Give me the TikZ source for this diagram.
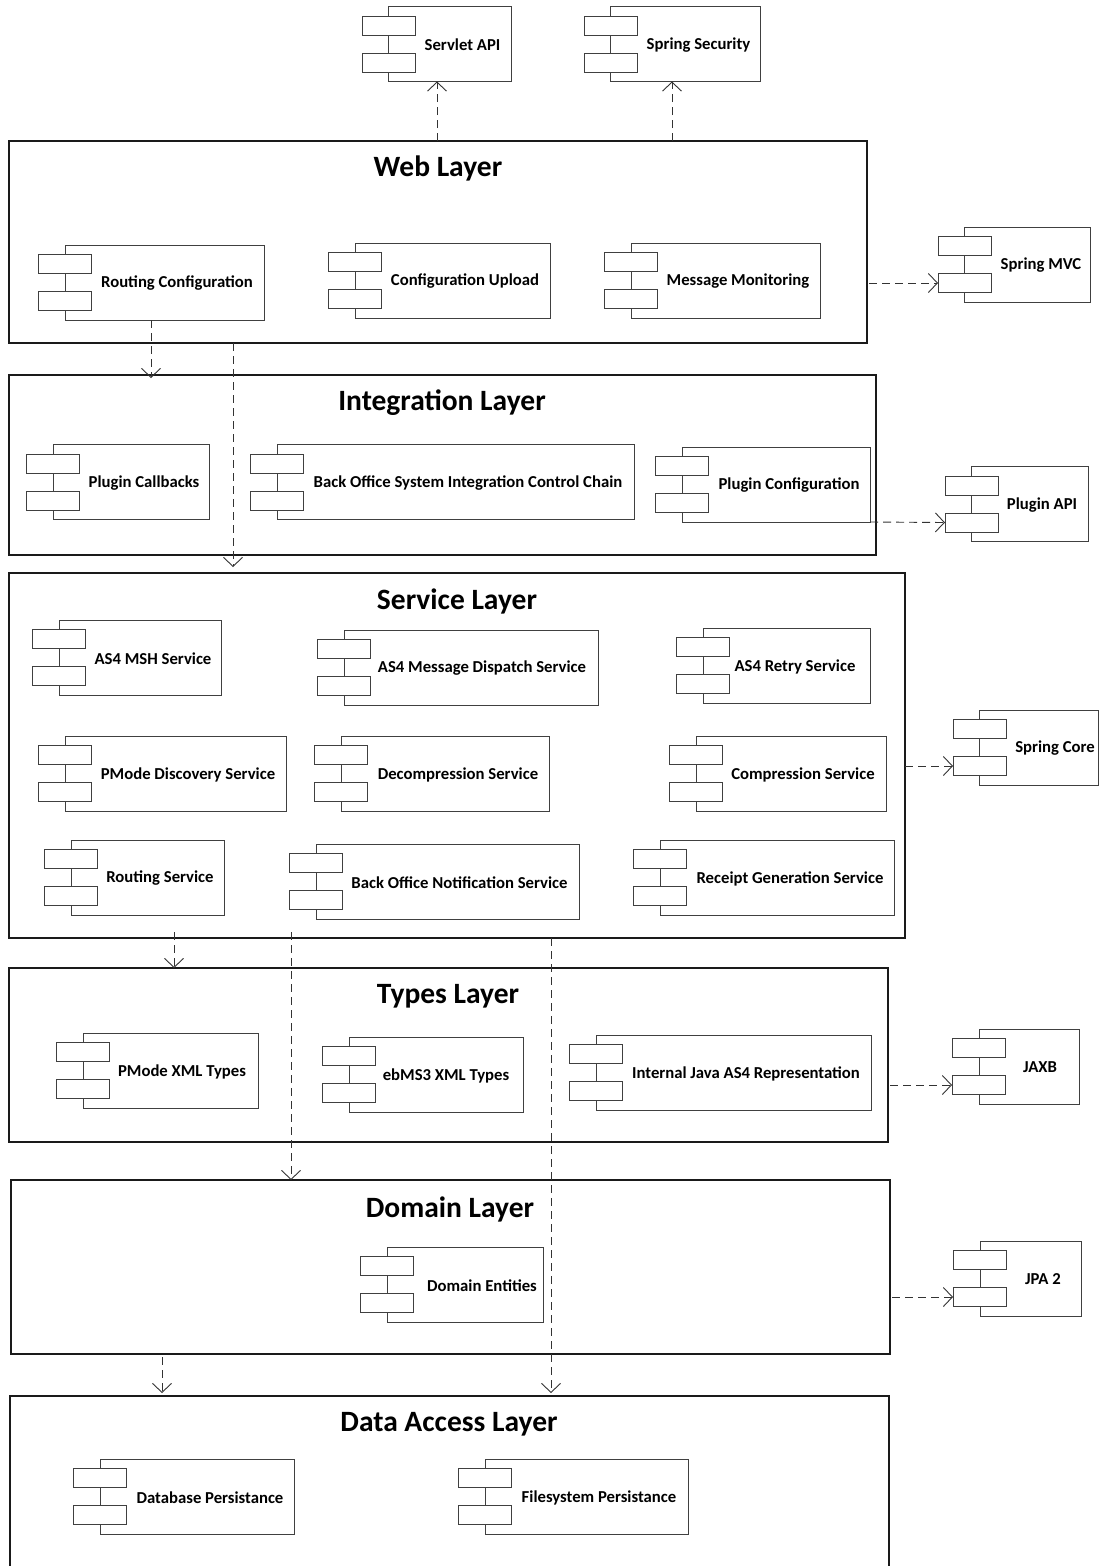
\documentclass[tikz,border=0pt]{standalone}
\usepackage{fontspec}
\setmainfont{Carlito}
\usetikzlibrary{arrows.meta}
\definecolor{inkc}{HTML}{1A1A1A}
\definecolor{compc}{HTML}{404040}
\definecolor{depc}{HTML}{333333}
\tikzset{
  layerbox/.style={draw=inkc,line width=1.6pt,rectangle,inner sep=0pt,outer sep=0pt,anchor=north west},
  compbody/.style={draw=compc,line width=1pt,rectangle,inner sep=0pt,outer sep=0pt,anchor=north west},
  compport/.style={draw=compc,fill=white,line width=1pt,rectangle,inner sep=0pt,outer sep=0pt,anchor=north west,minimum width=53pt,minimum height=19pt},
  complabel/.style={font=\bfseries\fontsize{16.7}{20}\selectfont,inner sep=0pt,text=black},
  layertitle/.style={font=\bfseries\fontsize{29.5}{34}\selectfont,inner sep=0pt,text=black},
  dep/.style={draw=depc,line width=0.9pt,dash pattern=on 8pt off 5pt,-{Straight Barb[length=9pt,width=19pt,line width=0.9pt]}}
}
% id, port-left, body-left, body-right, top, label-x, label
\newcommand{\comp}[7]{%
  \pgfmathsetmacro{\cw}{#4-#3}
  \node[compbody,minimum width=\cw pt,minimum height=75pt] (#1) at (#3,#5) {};
  \node[compport] (#1p) at (#2,#5+9.5) {};
  \node[compport] (#1q) at (#2,#5+46.5) {};
  \node[complabel] (#1t) at (#6,#5+38.5) {#7};
}
% id, left, right, top, bottom, title-x, title-y, title
\newcommand{\layer}[8]{%
  \pgfmathsetmacro{\lw}{#3-#2}
  \pgfmathsetmacro{\lh}{#5-#4}
  \node[layerbox,minimum width=\lw pt,minimum height=\lh pt] (#1) at (#2,#4) {};
  \node[layertitle] (#1t) at (#6,#7) {#8};
}
\begin{document}
\begin{tikzpicture}[x=1pt,y=-1pt]
\useasboundingbox[fill=white] (0,0) rectangle (1099,1566);
% x references for connectors
\foreach \v in {151,174,162,233,291,437,551,672}{\coordinate (x\v) at (\v,0);}
% externals
\comp{servlet}{362}{388}{511}{6.5}{462.5}{Servlet API}
\comp{security}{584}{610}{760}{6.5}{698.5}{Spring Security}
\comp{mvc}{938}{964}{1090}{227}{1041}{Spring MVC}
\comp{pluginapi}{945}{971}{1088}{466.5}{1042}{Plugin API}
\comp{core}{953}{979}{1098.5}{710}{1055}{Spring Core}
\comp{jaxb}{952}{979}{1079}{1029}{1040}{JAXB}
\comp{jpa}{953}{980}{1081}{1241}{1043}{JPA 2}
% web
\layer{web}{9}{867}{141}{343}{438}{168}{Web Layer}
\comp{routecfg}{38}{65}{264}{245}{177}{Routing Configuration}
\comp{cfgup}{328}{355}{550}{243}{465}{Configuration Upload}
\comp{msgmon}{604}{631}{820}{243}{738}{Message Monitoring}
% integration
\layer{integ}{9}{876}{375}{555}{442}{403}{Integration Layer}
\comp{callbacks}{26}{53}{209}{444.5}{144}{Plugin Callbacks}
\comp{bochain}{250}{277}{634}{444.5}{468}{Back Office System Integration Control Chain}
\comp{plugcfg}{655}{682}{870}{447}{789}{Plugin Configuration}
% service
\layer{service}{9}{905}{573}{938}{457}{601}{Service Layer}
\comp{msh}{32}{59}{221}{620}{153}{AS4 MSH Service}
\comp{dispatch}{317}{344}{598}{630}{482}{AS4 Message Dispatch Service}
\comp{retry}{676}{703}{870}{628}{795}{AS4 Retry Service}
\comp{pmode}{38}{65}{286}{736}{188}{PMode Discovery Service}
\comp{decomp}{314}{341}{549}{736}{458}{Decompression Service}
\comp{comp}{669}{696}{886}{736}{803}{Compression Service}
\comp{routing}{44}{71}{224}{840}{160}{Routing Service}
\comp{bonotif}{289}{316}{579}{844}{459.5}{Back Office Notification Service}
\comp{receipt}{633}{660}{894}{840}{790}{Receipt Generation Service}
% types
\layer{types}{9}{888}{968}{1142}{448}{996}{Types Layer}
\comp{pmxml}{56}{83}{258}{1033}{182}{PMode XML Types}
\comp{ebms}{322}{349}{523}{1037}{446}{ebMS3 XML Types}
\comp{internal}{569}{596}{871}{1035}{746}{Internal Java AS4 Representation}
% domain
\layer{domain}{11}{890}{1180}{1354}{450}{1209}{Domain Layer}
\comp{entities}{360}{387}{543}{1247}{482}{Domain Entities}
% data access (runs off the page)
\coordinate (dataN) at (449,1396);
\draw[draw=inkc,line width=1.6pt] (10,1566) -- (10,1396) -- (889,1396) -- (889,1566);
\node[layertitle] (datat) at (449,1424) {Data Access Layer};
\comp{dbp}{73}{100}{294}{1459}{210}{Database Persistance}
\comp{fsp}{458}{485}{688}{1459}{599}{Filesystem Persistance}
% connectors
\draw[dep] (web.north -| x437) -- (servlet.south -| x437);
\draw[dep] (web.north -| x672) -- (security.south -| x672);
\draw[dep,shorten <=2pt] (web.east |- mvcq) -- (mvcq.west);
\draw[dep,shorten >=-3pt] (routecfg.south -| x151) -- (integ.north -| x151);
\draw[dep,shorten >=6pt] (web.south -| x233) -- (service.north -| x233);
\draw[dep] (plugcfg.south east) -- (pluginapiq.west);
\draw[dep] (service.east |- coreq) -- (coreq.west);
\draw[dep,shorten <=-6pt] (service.south -| x174) -- (types.north -| x174);
\draw[dep,shorten <=-6pt] (service.south -| x291) -- (domain.north -| x291);
\draw[dep] (service.south -| x551) -- ([yshift=3pt]dataN -| x551);
\draw[dep,shorten <=2pt] (types.east |- jaxbq) -- (jaxbq.west);
\draw[dep,shorten <=2pt] (domain.east |- jpaq) -- (jpaq.west);
\draw[dep,shorten <=3pt] (domain.south -| x162) -- ([yshift=3pt]dataN -| x162);
\end{tikzpicture}
\end{document}
